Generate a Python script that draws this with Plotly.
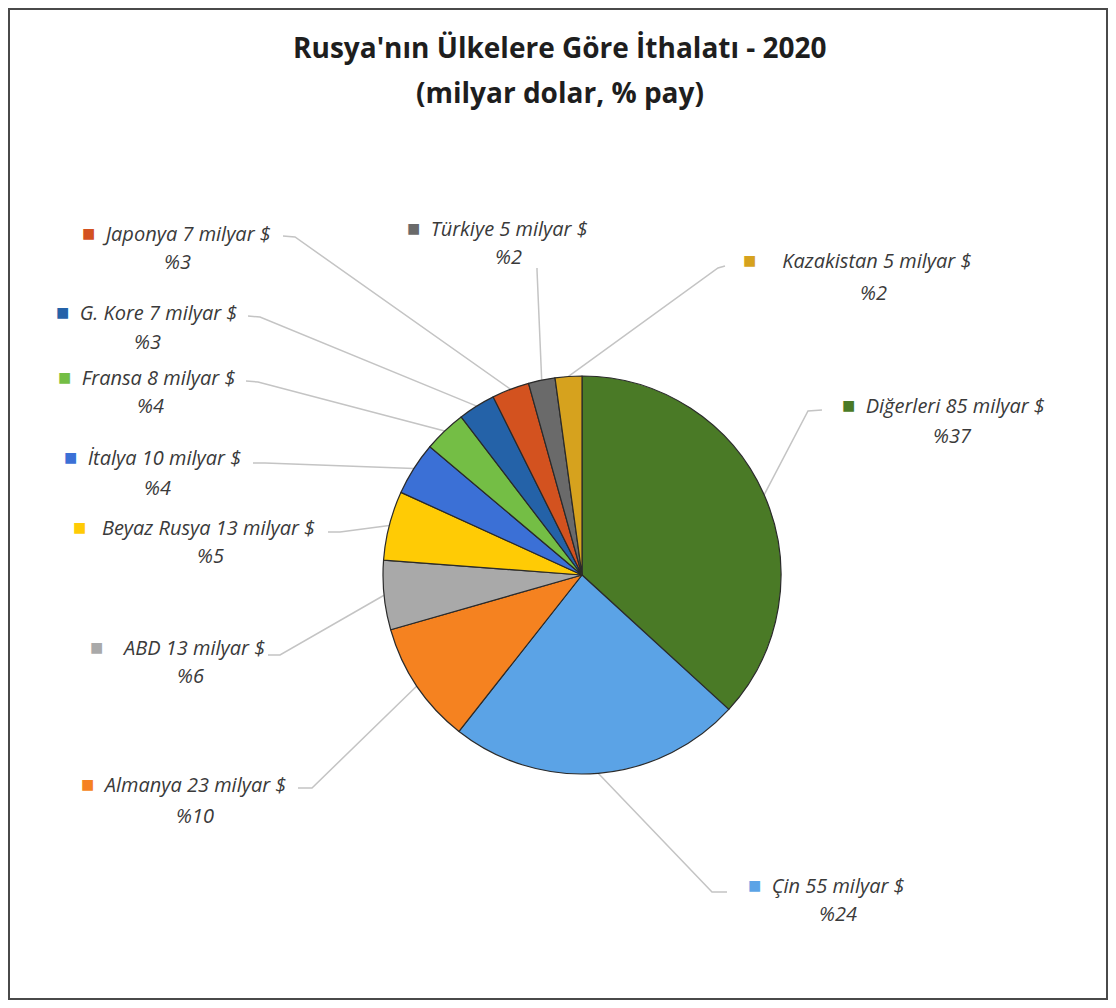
import math
import plotly.graph_objects as go

# ---------------- data ----------------
countries = ["Diğerleri", "Çin", "Almanya", "ABD", "Beyaz Rusya", "İtalya",
             "Fransa", "G. Kore", "Japonya", "Türkiye", "Kazakistan"]
values = [85, 55, 23, 13, 13, 10, 8, 7, 7, 5, 5]          # milyar $
shares = [37, 24, 10, 6, 5, 4, 4, 3, 3, 2, 2]             # % pay
title_line1 = "Rusya'nın Ülkelere Göre İthalatı - 2020"
title_line2 = "(milyar dolar, % pay)"

# ---------------- styles / layout ----------------
colors = ["#4A7A26", "#5BA3E6", "#F58220", "#A9A9A9", "#FFCB05", "#3B70D6",
          "#74BE45", "#2462A8", "#D3521F", "#6A6A6A", "#D6A21E"]

OFF = 8                      # page body margin offset (screen px)
W, H = 1100, 992             # figure size
CX, CY, R = 582, 575, 199    # pie centre/radius in screen pixels

# label first line centre (screen px), second line centre (screen px)
line1_pos = [(943, 404), (826, 884), (183, 783), (177, 646), (194, 526),
             (152, 456), (146, 376), (146, 311), (176, 232), (497, 227),
             (857, 259)]
line2_pos = [(952, 435), (838, 913), (195, 815), (190, 675), (210, 555),
             (157, 487), (150, 406), (148, 341), (177, 261), (508, 256),
             (873, 292)]
gaps = [1, 1, 1, 3, 2, 1, 1, 1, 1, 1, 4]
# leader line start + elbow (screen px)
leader_start = [(822, 410), (727, 892), (298, 788), (268, 655), (328, 532),
                (253, 463), (246, 381), (248, 316), (283, 236), (537, 268),
                (725, 266)]
leader_elbow = [(808, 411), (712, 892), (312, 788), (280, 655), (340, 532),
                (265, 463), (258, 382), (260, 317), (295, 237), (537, 270),
                (718, 268)]


def px(x):
    return (x - OFF) / W


def py(y):
    return 1 - (y - OFF) / H


total = sum(values)
fig = go.Figure()

# leader lines, in a pixel coordinate system matching the screen
cum = 0.0
lx, ly = [], []
for i, v in enumerate(values):
    mid = (cum + v / 2) / total * 2 * math.pi
    cum += v
    ex = CX + R * math.sin(mid)
    ey = CY - R * math.cos(mid)
    sx, sy = leader_start[i]
    bx, by = leader_elbow[i]
    lx += [sx, bx, ex, None]
    ly += [sy, by, ey, None]

fig.add_trace(go.Scatter(x=lx, y=ly, mode="lines",
                         line=dict(color="#C4C4C4", width=1.5),
                         hoverinfo="skip", showlegend=False))

fig.add_trace(go.Pie(
    labels=countries, values=values, sort=False, direction="clockwise",
    rotation=0, textinfo="none",
    marker=dict(colors=colors, line=dict(color="#2A2A2A", width=1.2)),
    domain=dict(x=[px(CX - R), px(CX + R)], y=[py(CY + R), py(CY - R)]),
    showlegend=False,
    hovertemplate="%{label}: %{value} milyar $<extra></extra>",
))

title_font = dict(family="Open Sans, Lato, sans-serif", size=28, color="#1E1E1E")
label_font = dict(family="Open Sans, Lato, sans-serif", size=20, color="#3A3A3A")

annotations = [
    dict(x=px(560), y=py(47), xref="paper", yref="paper",
         text="<b>" + title_line1 + "</b>", showarrow=False,
         font=title_font, xanchor="center", yanchor="middle"),
    dict(x=px(560), y=py(92), xref="paper", yref="paper",
         text="<b>" + title_line2 + "</b>", showarrow=False,
         font=title_font, xanchor="center", yanchor="middle"),
]

for i, name in enumerate(countries):
    x1, y1 = line1_pos[i]
    x2, y2 = line2_pos[i]
    sq = f"<span style='color:{colors[i]};font-size:22px'>■</span>"
    annotations.append(dict(
        x=px(x1), y=py(y1), xref="paper", yref="paper",
        text=sq + "&nbsp;" * (gaps[i] + 1) + f"<i>{name} {values[i]} milyar $</i>",
        showarrow=False, xanchor="center", yanchor="middle", font=label_font))
    annotations.append(dict(
        x=px(x2), y=py(y2), xref="paper", yref="paper",
        text=f"<i>%{shares[i]}</i>",
        showarrow=False, xanchor="center", yanchor="middle", font=label_font))

fig.update_layout(
    width=W, height=H,
    margin=dict(l=0, r=0, t=0, b=0),
    paper_bgcolor="white", plot_bgcolor="rgba(0,0,0,0)",
    xaxis=dict(range=[OFF, OFF + W], visible=False, fixedrange=True, domain=[0, 1]),
    yaxis=dict(range=[OFF + H, OFF], visible=False, fixedrange=True, domain=[0, 1]),
    annotations=annotations,
    shapes=[dict(type="rect", xref="paper", yref="paper",
                 x0=1 / W, x1=1099 / W, y0=1 / H, y1=1 - 1 / H,
                 line=dict(color="#4A4A4A", width=2))],
)

fig.write_html("out.html")
